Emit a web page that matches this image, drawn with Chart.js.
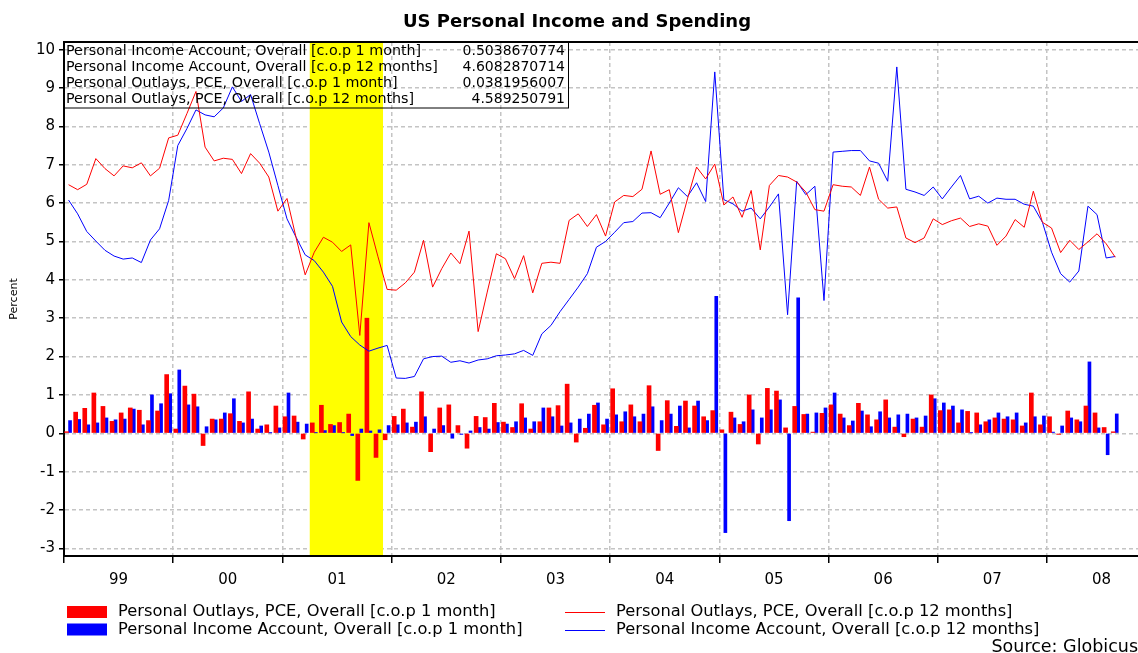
<!DOCTYPE html>
<html>
<head>
<meta charset="utf-8">
<script src="https://cdn.jsdelivr.net/npm/chart.js@4.4.0/dist/chart.umd.min.js"></script>
<style>
  html, body { margin: 0; padding: 0; background: #fff; overflow: hidden; }
  #contenedor { width: 1138px; height: 653px; position: relative; }
</style>
</head>
<body>
<div id="contenedor"><canvas id="grafica"></canvas></div>
<script>
// meses desde ene 1999; el eje llega hasta oct 2008
const anioInicio = 1999;
const totalMeses = 118;
const etiquetasAnio = ['99', '00', '01', '02', '03', '04', '05', '06', '07', '08'];
const ticksY = [-3, -2, -1, 0, 1, 2, 3, 4, 5, 6, 7, 8, 9, 10];

// franja de recesion (en meses desde ene 1999)
const recesion = [27.0, 35.05];

// Personal Outlays, PCE [c.o.p 1 month]
const pce1m = [
  0.04, 0.55, 0.65, 1.05, 0.70, 0.31, 0.53, 0.66, 0.60, 0.33, 0.58, 1.53,
  0.11, 1.23, 1.02, -0.32, 0.37, 0.37, 0.51, 0.31, 1.08, 0.11, 0.22, 0.71,
  0.43, 0.45, -0.15, 0.27, 0.73, 0.23, 0.28, 0.50, -1.23, 3.00, -0.63, -0.17,
  0.44, 0.63, 0.16, 1.08, -0.48, 0.66, 0.74, 0.20, -0.39, 0.44, 0.41, 0.78,
  0.29, 0.15, 0.77, 0.11, 0.30, 0.66, 0.72, 1.28, -0.23, 0.13, 0.73, 0.22,
  1.16, 0.30, 0.74, 0.30, 1.24, -0.45, 0.85, 0.18, 0.84, 0.71, 0.43, 0.59,
  0.09, 0.55, 0.23, 1.00, -0.28, 1.17, 1.10, 0.14, 0.70, 0.49, 0.03, 0.52,
  0.74, 0.50, 0.20, 0.78, 0.48, 0.35, 0.87, 0.16, -0.09, 0.37, 0.16, 1.00,
  0.59, 0.61, 0.27, 0.57, 0.53, 0.30, 0.40, 0.37, 0.35, 0.19, 1.05, 0.22,
  0.43, -0.03, 0.58, 0.35, 0.71, 0.53, 0.15, 0.0381956007
];

// Personal Income Account [c.o.p 1 month]
const ingreso1m = [
  0.33, 0.36, 0.22, 0.27, 0.40, 0.35, 0.37, 0.63, 0.22, 1.00, 0.77, 1.03,
  1.65, 0.74, 0.69, 0.17, 0.35, 0.53, 0.90, 0.27, 0.37, 0.19, 0.01, 0.14,
  1.05, 0.29, 0.24, 0.01, 0.07, 0.20, 0.01, -0.06, 0.11, 0.06, 0.09, 0.20,
  0.22, 0.27, 0.29, 0.43, 0.11, 0.20, -0.13, -0.03, 0.06, 0.15, 0.11, 0.28,
  0.24, 0.30, 0.40, 0.30, 0.66, 0.43, 0.19, 0.27, 0.37, 0.50, 0.79, 0.37,
  0.48, 0.56, 0.43, 0.50, 0.69, 0.33, 0.50, 0.71, 0.14, 0.84, 0.33, 3.57,
  -2.59, 0.40, 0.30, 0.61, 0.40, 0.61, 0.87, -2.28, 3.53, 0.50, 0.53, 0.66,
  1.05, 0.40, 0.32, 0.58, 0.17, 0.56, 0.40, 0.48, 0.50, 0.40, 0.45, 0.90,
  0.79, 0.71, 0.61, 0.01, 0.22, 0.35, 0.53, 0.43, 0.53, 0.27, 0.43, 0.45,
  0.03, 0.19, 0.40, 0.30, 1.86, 0.14, -0.56, 0.5038670774
];

// Personal Outlays, PCE [c.o.p 12 months]
const pce12m = [
  6.48, 6.35, 6.49, 7.16, 6.90, 6.71, 6.97, 6.92, 7.05, 6.71, 6.91, 7.70,
  7.77, 8.33, 8.91, 7.46, 7.10, 7.17, 7.14, 6.77, 7.29, 7.04, 6.68, 5.79,
  6.12, 5.10, 4.13, 4.72, 5.11, 4.98, 4.74, 4.91, 2.55, 5.49, 4.60, 3.75,
  3.73, 3.92, 4.20, 5.03, 3.81, 4.29, 4.70, 4.42, 5.27, 2.65, 3.68, 4.68,
  4.55, 4.03, 4.63, 3.66, 4.43, 4.46, 4.43, 5.55, 5.72, 5.39, 5.70, 5.14,
  6.03, 6.20, 6.17, 6.36, 7.36, 6.23, 6.35, 5.23, 6.11, 6.94, 6.63, 7.02,
  5.95, 6.16, 5.63, 6.33, 4.78, 6.46, 6.72, 6.68, 6.55, 6.29, 5.83, 5.79,
  6.48, 6.44, 6.42, 6.20, 6.94, 6.10, 5.87, 5.90, 5.09, 4.97, 5.09, 5.59,
  5.44, 5.54, 5.61, 5.39, 5.46, 5.40, 4.90, 5.14, 5.57, 5.37, 6.31, 5.50,
  5.35, 4.71, 5.03, 4.79, 4.99, 5.20, 4.94, 4.589250791
];

// Personal Income Account [c.o.p 12 months]
const ingreso12m = [
  6.08, 5.72, 5.26, 5.01, 4.77, 4.62, 4.54, 4.57, 4.45, 5.04, 5.33, 6.07,
  7.50, 7.94, 8.43, 8.30, 8.25, 8.48, 9.03, 8.65, 8.83, 8.07, 7.33, 6.46,
  5.59, 5.11, 4.65, 4.50, 4.20, 3.83, 2.90, 2.52, 2.30, 2.14, 2.22, 2.29,
  1.44, 1.43, 1.48, 1.94, 2.00, 2.01, 1.85, 1.89, 1.83, 1.91, 1.94, 2.02,
  2.04, 2.07, 2.16, 2.03, 2.59, 2.81, 3.17, 3.49, 3.81, 4.16, 4.85, 5.00,
  5.24, 5.49, 5.52, 5.74, 5.75, 5.62, 6.00, 6.40, 6.17, 6.53, 6.04, 9.42,
  6.09, 5.98, 5.79, 5.87, 5.59, 5.90, 6.24, 3.09, 6.57, 6.22, 6.44, 3.46,
  7.33, 7.35, 7.37, 7.37, 7.10, 7.04, 6.57, 9.55, 6.36, 6.29, 6.20, 6.42,
  6.11, 6.42, 6.72, 6.11, 6.18, 6.00, 6.13, 6.10, 6.10, 5.97, 5.92, 5.50,
  4.72, 4.16, 3.94, 4.23, 5.92, 5.70, 4.57, 4.6082870714
];

const etiquetaPce1 = 'Personal Outlays, PCE, Overall [c.o.p 1 month]';
const etiquetaIng1 = 'Personal Income Account, Overall [c.o.p 1 month]';
const etiquetaPce12 = 'Personal Outlays, PCE, Overall [c.o.p 12 months]';
const etiquetaIng12 = 'Personal Income Account, Overall [c.o.p 12 months]';

const meses = [];
for (let i = 0; i < totalMeses; i++) {
  meses.push((anioInicio + Math.floor(i / 12)) + '-' + String(i % 12 + 1).padStart(2, '0'));
}

const rojo = '#ff0000';
const azul = '#0000ff';
const gris = '#c4c4c4';
const fuente = '"DejaVu Sans", Verdana, sans-serif';

// franja amarilla, marco, cuadro de ultimos valores, leyenda y fuente
const plugTextos = {
  id: 'textos',
  beforeDatasetsDraw(chart) {
    const {ctx, chartArea} = chart;
    const esc = chart.scales.xAnios;
    const x1 = esc.getPixelForValue(recesion[0]);
    const x2 = esc.getPixelForValue(recesion[1]);
    ctx.save();
    ctx.fillStyle = '#ffff00';
    ctx.fillRect(x1, chartArea.top, x2 - x1, chartArea.bottom - chartArea.top - 1);
    ctx.restore();
  },
  afterDraw(chart) {
    const {ctx, chartArea} = chart;
    const ds = chart.data.datasets;
    ctx.save();

    // borde superior
    ctx.strokeStyle = '#000';
    ctx.lineWidth = 2;
    ctx.beginPath();
    ctx.moveTo(chartArea.left - 1, chartArea.top);
    ctx.lineTo(chartArea.right, chartArea.top);
    ctx.stroke();

    // titulo
    ctx.fillStyle = '#000';
    ctx.font = 'bold 18px ' + fuente;
    ctx.textAlign = 'center';
    ctx.textBaseline = 'middle';
    ctx.fillText('US Personal Income and Spending', 577, 22);

    // cuadro con ultimos valores
    const filas = [
      [etiquetaIng1, ingreso1m],
      [etiquetaIng12, ingreso12m],
      [etiquetaPce1, pce1m],
      [etiquetaPce12, pce12m]
    ];
    ctx.lineWidth = 1;
    ctx.strokeRect(63.5, 42.5, 505, 65.5);
    filas.forEach((f, i) => {
      const y = 51.5 + i * 16;
      ctx.font = '14.3px ' + fuente;
      ctx.textAlign = 'left';
      ctx.fillText(f[0], 66, y);
      ctx.font = '14px ' + fuente;
      ctx.textAlign = 'right';
      ctx.fillText(String(f[1][f[1].length - 1]), 565, y);
    });

    // leyenda inferior
    ctx.font = '16.3px ' + fuente;
    ctx.textAlign = 'left';
    const items = [
      {d: ds[0], x: 67, y: 612},
      {d: ds[1], x: 67, y: 629.5},
      {d: ds[2], x: 565, y: 612},
      {d: ds[3], x: 565, y: 629.5}
    ];
    items.forEach(it => {
      if (it.d.type === 'line') {
        ctx.strokeStyle = it.d.borderColor;
        ctx.lineWidth = 1;
        ctx.beginPath();
        ctx.moveTo(it.x, Math.round(it.y) + 0.5);
        ctx.lineTo(it.x + 40, Math.round(it.y) + 0.5);
        ctx.stroke();
      } else {
        ctx.fillStyle = it.d.backgroundColor;
        ctx.fillRect(it.x, it.y - 6, 40, 12);
      }
      ctx.fillStyle = '#000';
      ctx.fillText(it.d.label, it.x + 51, it.y);
    });

    ctx.font = '17.5px ' + fuente;
    ctx.textAlign = 'right';
    ctx.fillText('Source: Globicus', 1138, 647);
    ctx.restore();
  }
};

const grafica = new Chart(document.getElementById('grafica'), {
  type: 'bar',
  data: {
    labels: meses,
    datasets: [
      {
        label: etiquetaPce1,
        data: pce1m,
        backgroundColor: rojo,
        barThickness: 4,
        order: 2
      },
      {
        label: etiquetaIng1,
        data: ingreso1m,
        backgroundColor: azul,
        barThickness: 3,
        order: 2
      },
      {
        type: 'line',
        label: etiquetaPce12,
        data: pce12m,
        borderColor: rojo,
        borderWidth: 1,
        pointRadius: 0,
        tension: 0,
        order: 1
      },
      {
        type: 'line',
        label: etiquetaIng12,
        data: ingreso12m,
        borderColor: azul,
        borderWidth: 1,
        pointRadius: 0,
        tension: 0,
        order: 1
      }
    ]
  },
  options: {
    responsive: true,
    maintainAspectRatio: false,
    animation: false,
    layout: { padding: { top: 42, left: 0, right: 0, bottom: 0 } },
    plugins: {
      legend: { display: false },
      title: { display: false },
      tooltip: { enabled: false }
    },
    scales: {
      x: {
        display: false,
        offset: true
      },
      xAnios: {
        type: 'linear',
        position: 'bottom',
        offset: false,
        min: 0,
        max: totalMeses,
        afterBuildTicks: (scale) => {
          const t = [];
          for (let v = 0; v < totalMeses; v += 6) t.push({value: v});
          scale.ticks = t;
        },
        afterFit: (scale) => { scale.height = 97; },
        grid: {
          offset: false,
          color: (c) => (c.tick && c.tick.value % 12 === 0 && c.tick.value > 0) ? gris : 'rgba(0,0,0,0)',
          lineWidth: 1.5,
          tickColor: (c) => (c.tick && c.tick.value % 12 === 0) ? '#000' : 'rgba(0,0,0,0)',
          tickLength: 7,
          tickWidth: 1.5
        },
        border: { color: '#000', width: 2, dash: [4, 3] },
        ticks: {
          autoSkip: false,
          maxRotation: 0,
          padding: 8,
          color: '#000',
          font: { family: fuente, size: 15 },
          callback: (v) => (v % 12 === 6) ? etiquetasAnio[(v - 6) / 12] : ''
        }
      },
      y: {
        min: -3.2,
        max: 10.2,
        afterBuildTicks: (scale) => {
          scale.ticks = ticksY.map(v => ({value: v}));
        },
        afterFit: (scale) => { scale.width = 64; },
        grid: {
          color: gris,
          lineWidth: 1.5,
          tickColor: '#000',
          tickLength: 5,
          tickWidth: 1.5
        },
        border: { color: '#000', width: 2, dash: [4, 3] },
        ticks: {
          padding: 4,
          color: '#000',
          font: { family: fuente, size: 15 }
        },
        title: {
          display: true,
          text: 'Percent',
          color: '#000',
          padding: { top: 8, bottom: 0 },
          font: { family: fuente, size: 11 }
        }
      }
    }
  },
  plugins: [plugTextos]
});
</script>
</body>
</html>
